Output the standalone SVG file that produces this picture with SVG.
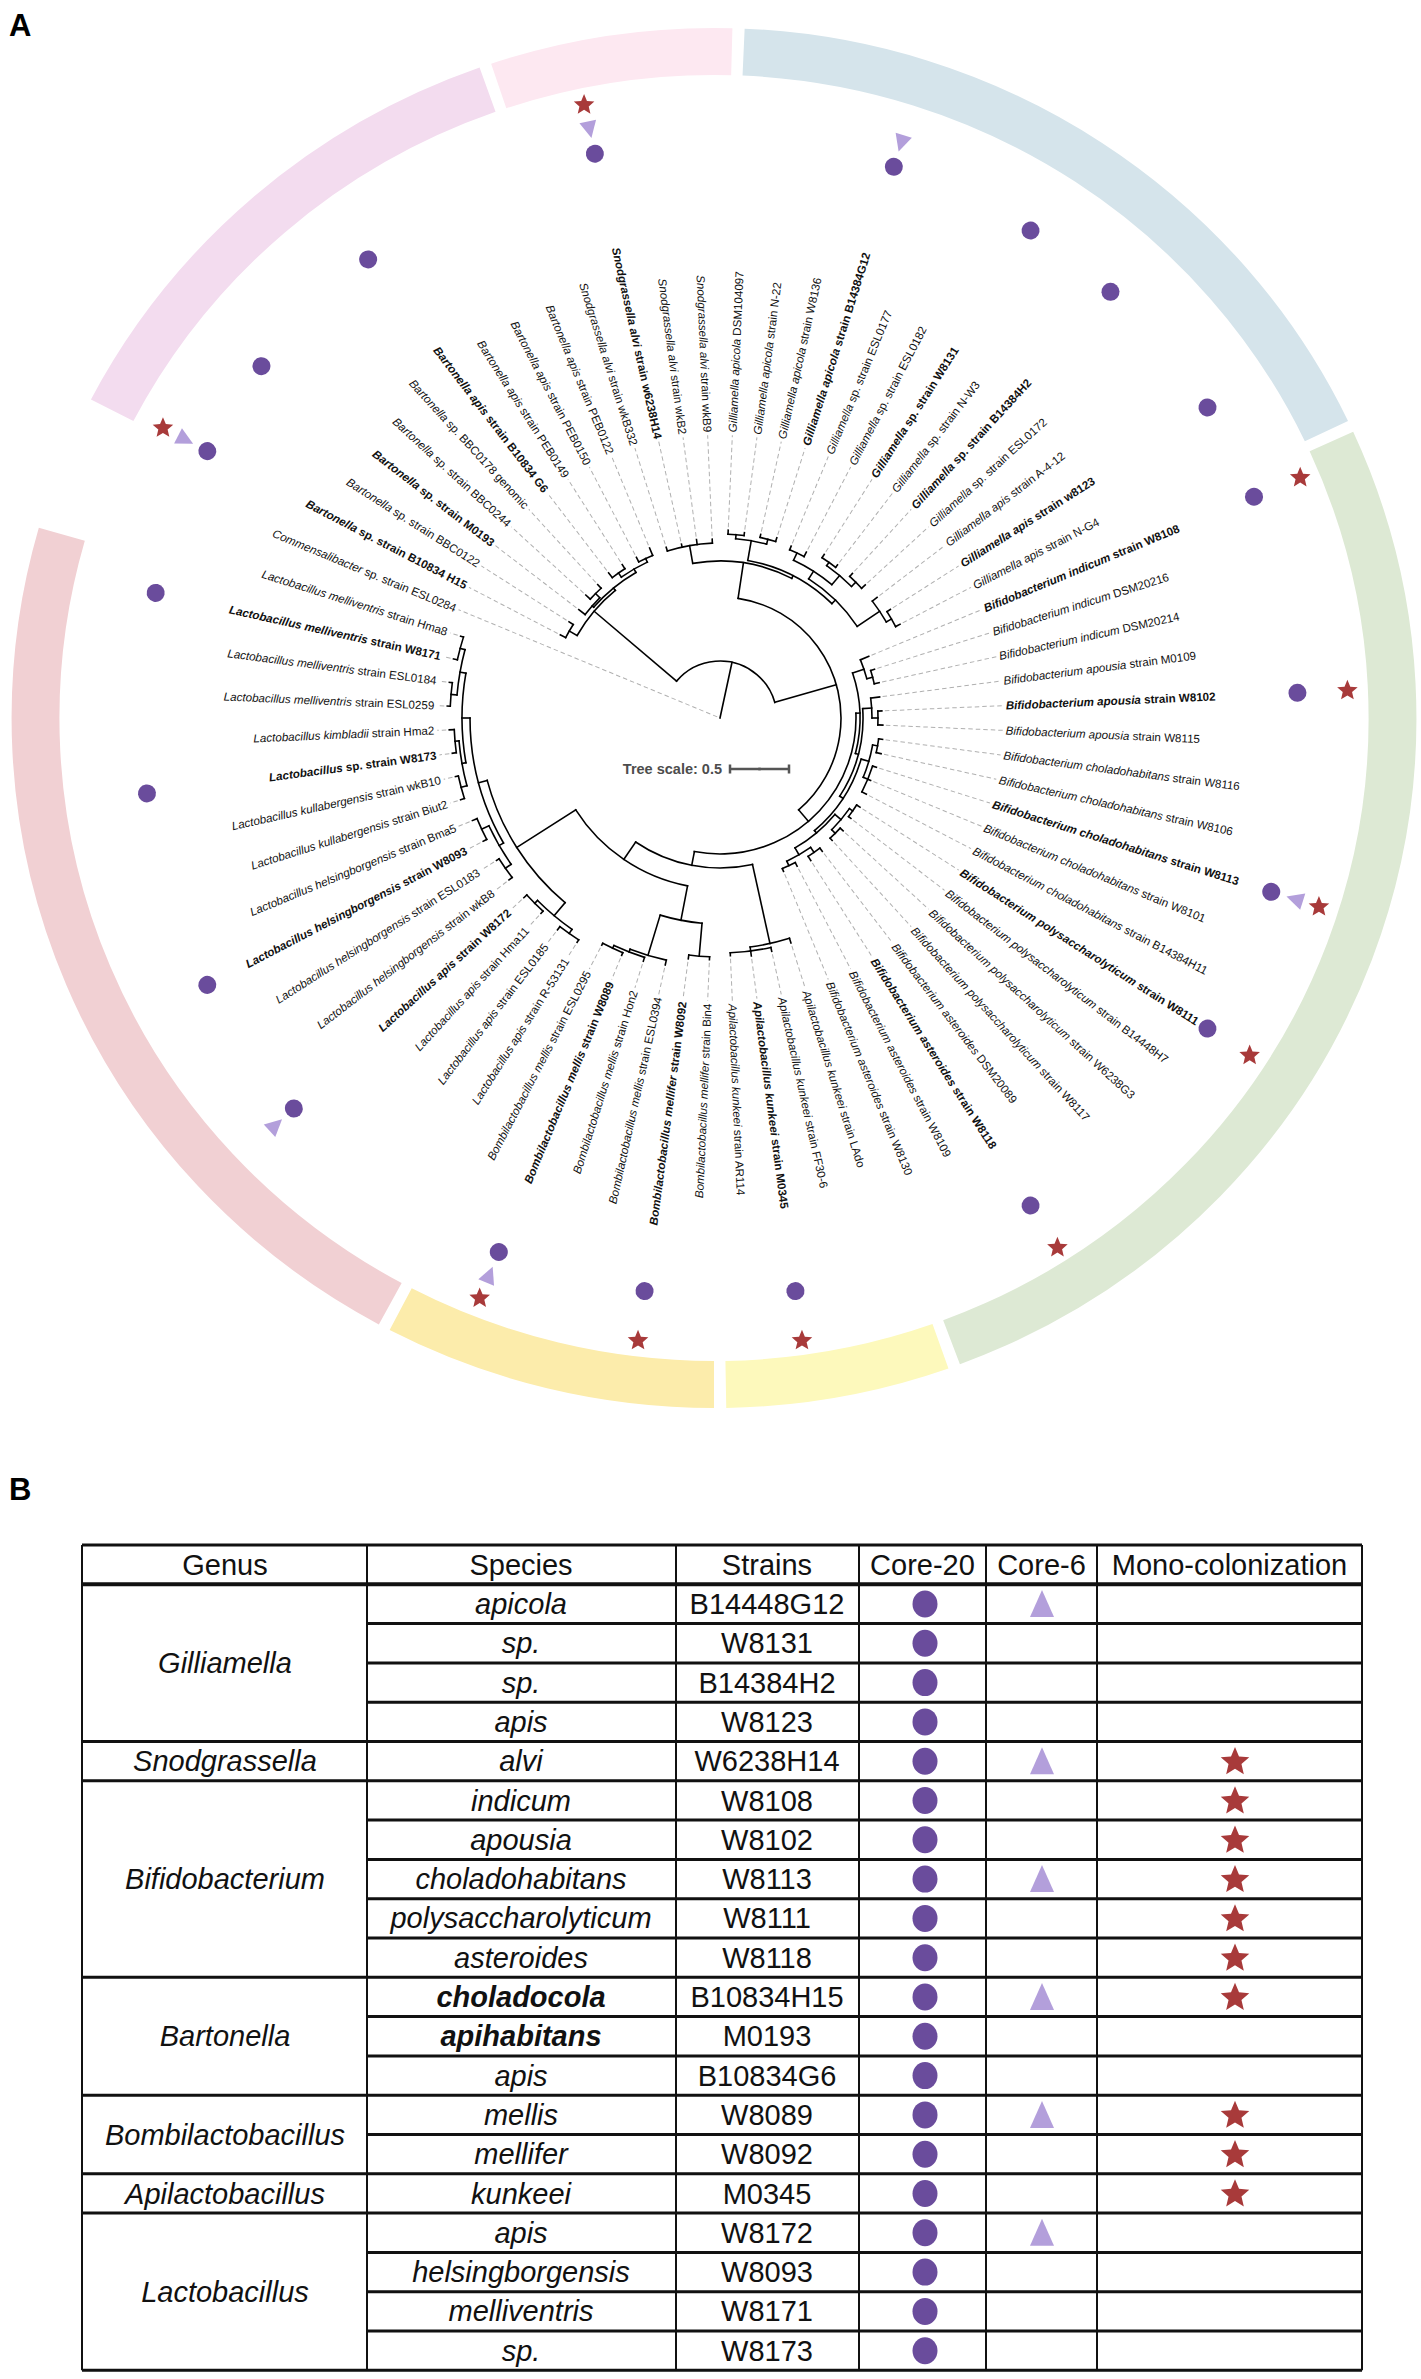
<svg xmlns="http://www.w3.org/2000/svg" xmlns:xlink="http://www.w3.org/1999/xlink" width="1421" height="2379" viewBox="0 0 1421 2379">
<style>
.br{fill:none;stroke:#000;stroke-width:1.6;stroke-linecap:square}
.ds{fill:none;stroke:#b0b0b0;stroke-width:1;stroke-dasharray:4.5 3}
.lb{font-family:"Liberation Sans",Arial,sans-serif;font-size:11.6px;fill:#111}
.b{font-weight:bold}
.i{font-style:italic}
.L{text-anchor:end}
.c{fill:#6a4c9c}
.t{fill:#b39fdb}
.s{fill:#a83a3a}
.ring{fill:none;stroke-width:47}
.tb{font-family:"Liberation Sans",Arial,sans-serif;font-size:29px;fill:#111;text-anchor:middle}
.hl{stroke:#111;stroke-width:3}
.vl{stroke:#111;stroke-width:2}
.pl{font-family:"Liberation Sans",Arial,sans-serif;font-size:31px;font-weight:bold;fill:#000}
</style>
<defs>
<circle id="dot" r="9"/>
<polygon id="tri" points="-9,0 8,-8.5 8,8.5"/>
<polygon id="star" points="0,-15 4,-5.5 14.27,-4.64 6.47,2.1 8.82,12.14 0,6.8 -8.82,12.14 -6.47,2.1 -14.27,-4.64 -4,-5.5"/>
<ellipse id="tdot" rx="12.5" ry="13.5"/>
<polygon id="ttri" points="0,-14 12,13 -12,13"/>
</defs>
<rect width="1421" height="2379" fill="#fff"/>
<text class="pl" x="9" y="36">A</text>
<text class="pl" x="9" y="1500">B</text>

<g id="ring" transform="translate(714 718) scale(1.018 1)">
<circle class="ring" r="666.5" stroke="#f3dcef" stroke-dasharray="500.2 9999" transform="rotate(207.5)"/>
<circle class="ring" r="666.5" stroke="#fde8f1" stroke-dasharray="232.7 9999" transform="rotate(251.5)"/>
<circle class="ring" r="666.5" stroke="#d5e4eb" stroke-dasharray="721.2 9999" transform="rotate(-87.5)"/>
<circle class="ring" r="666.5" stroke="#dde9d4" stroke-dasharray="1093.5 9999" transform="rotate(-24.5)"/>
<circle class="ring" r="666.5" stroke="#fdf9bc" stroke-dasharray="215.2 9999" transform="rotate(70.5)"/>
<circle class="ring" r="666.5" stroke="#fcecab" stroke-dasharray="319.9 9999" transform="rotate(90)"/>
<circle class="ring" r="666.5" stroke="#f1d0d3" stroke-dasharray="901.5 9999" transform="rotate(118.5)"/>
</g>

<g id="connectors" transform="translate(720 718)">
<g class="br">
<path transform="rotate(-77.84)" d="M0 0H57"/>
<path transform="rotate(220.31)" d="M57 0H165"/>
<path transform="rotate(-16)" d="M57 0H121"/>
<path transform="rotate(210)" d="M165 0H174"/>
<path transform="rotate(230.63)" d="M165 0H168"/>
<path transform="rotate(221.25)" d="M168 0H170"/>
<path transform="rotate(240)" d="M168 0H172"/>
<path transform="rotate(225)" d="M170 0H176"/>
<path transform="rotate(235)" d="M172 0H177"/>
<path transform="rotate(245)" d="M172 0H176"/>
<path transform="rotate(-81.41)" d="M121 0H157"/>
<path transform="rotate(260)" d="M157 0H175"/>
<path transform="rotate(-62.81)" d="M157 0H160"/>
<path transform="rotate(-80)" d="M160 0H180"/>
<path transform="rotate(-85)" d="M180 0H184"/>
<path transform="rotate(-75)" d="M180 0H185"/>
<path transform="rotate(-45.62)" d="M160 0H165"/>
<path transform="rotate(-57.5)" d="M165 0H174"/>
<path transform="rotate(-65)" d="M174 0H182"/>
<path transform="rotate(-50)" d="M174 0H186"/>
<path transform="rotate(-55)" d="M186 0H190"/>
<path transform="rotate(-45)" d="M186 0H192"/>
<path transform="rotate(-33.75)" d="M165 0H192"/>
<path transform="rotate(-30)" d="M192 0H198"/>
<path transform="rotate(49.42)" d="M121 0H136"/>
<path transform="rotate(-2.03)" d="M136 0H140"/>
<path transform="rotate(-18.75)" d="M140 0H152"/>
<path transform="rotate(-15)" d="M152 0H158"/>
<path transform="rotate(14.69)" d="M140 0H143"/>
<path transform="rotate(-3.75)" d="M143 0H152"/>
<path transform="rotate(0)" d="M152 0H158"/>
<path transform="rotate(33.13)" d="M143 0H147"/>
<path transform="rotate(16.25)" d="M147 0H155"/>
<path transform="rotate(10)" d="M155 0H160"/>
<path transform="rotate(22.5)" d="M155 0H160"/>
<path transform="rotate(50)" d="M147 0H150"/>
<path transform="rotate(40)" d="M150 0H158"/>
<path transform="rotate(35)" d="M158 0H162"/>
<path transform="rotate(45)" d="M158 0H163"/>
<path transform="rotate(60)" d="M150 0H158"/>
<path transform="rotate(55)" d="M158 0H164"/>
<path transform="rotate(65)" d="M158 0H163"/>
<path transform="rotate(100.86)" d="M136 0H150"/>
<path transform="rotate(77.5)" d="M150 0H231"/>
<path transform="rotate(82.5)" d="M231 0H235"/>
<path transform="rotate(124.22)" d="M150 0H171"/>
<path transform="rotate(100.94)" d="M171 0H206"/>
<path transform="rotate(95)" d="M206 0H239"/>
<path transform="rotate(106.88)" d="M206 0H248"/>
<path transform="rotate(111.25)" d="M248 0H251"/>
<path transform="rotate(115)" d="M251 0H254"/>
<path transform="rotate(147.5)" d="M171 0H241"/>
<path transform="rotate(130)" d="M241 0H258"/>
<path transform="rotate(125)" d="M258 0H263"/>
<path transform="rotate(135)" d="M258 0H262"/>
<path transform="rotate(165)" d="M241 0H250"/>
<path transform="rotate(150)" d="M250 0H255"/>
<path transform="rotate(145)" d="M255 0H262"/>
<path transform="rotate(155)" d="M255 0H263"/>
<path transform="rotate(180)" d="M250 0H258"/>
<path transform="rotate(170)" d="M258 0H262"/>
<path transform="rotate(165)" d="M262 0H268"/>
<path transform="rotate(175)" d="M262 0H266"/>
<path transform="rotate(190)" d="M258 0H264"/>
<path transform="rotate(185)" d="M264 0H270"/>
<path transform="rotate(195)" d="M264 0H269"/>
<circle r="57" stroke-dasharray="123.05 9999" transform="rotate(220.31)"/>
<circle r="165" stroke-dasharray="59.4 9999" transform="rotate(210)"/>
<circle r="174" stroke-dasharray="15.18 9999" transform="rotate(207.5)"/>
<circle r="168" stroke-dasharray="54.98 9999" transform="rotate(221.25)"/>
<circle r="170" stroke-dasharray="22.25 9999" transform="rotate(217.5)"/>
<circle r="176" stroke-dasharray="15.36 9999" transform="rotate(222.5)"/>
<circle r="172" stroke-dasharray="30.02 9999" transform="rotate(235)"/>
<circle r="177" stroke-dasharray="15.45 9999" transform="rotate(232.5)"/>
<circle r="176" stroke-dasharray="15.36 9999" transform="rotate(242.5)"/>
<circle r="121" stroke-dasharray="276.29 9999" transform="rotate(-81.41)"/>
<circle r="157" stroke-dasharray="101.91 9999" transform="rotate(260)"/>
<circle r="175" stroke-dasharray="45.81 9999" transform="rotate(252.5)"/>
<circle r="160" stroke-dasharray="95.99 9999" transform="rotate(-80)"/>
<circle r="180" stroke-dasharray="31.42 9999" transform="rotate(-85)"/>
<circle r="184" stroke-dasharray="16.06 9999" transform="rotate(-87.5)"/>
<circle r="185" stroke-dasharray="16.14 9999" transform="rotate(-77.5)"/>
<circle r="165" stroke-dasharray="68.4 9999" transform="rotate(-57.5)"/>
<circle r="174" stroke-dasharray="45.55 9999" transform="rotate(-65)"/>
<circle r="182" stroke-dasharray="15.88 9999" transform="rotate(-67.5)"/>
<circle r="186" stroke-dasharray="32.46 9999" transform="rotate(-55)"/>
<circle r="190" stroke-dasharray="16.58 9999" transform="rotate(-57.5)"/>
<circle r="192" stroke-dasharray="16.76 9999" transform="rotate(-47.5)"/>
<circle r="192" stroke-dasharray="25.13 9999" transform="rotate(-37.5)"/>
<circle r="198" stroke-dasharray="17.28 9999" transform="rotate(-32.5)"/>
<circle r="136" stroke-dasharray="244.22 9999" transform="rotate(-2.03)"/>
<circle r="140" stroke-dasharray="81.7 9999" transform="rotate(-18.75)"/>
<circle r="152" stroke-dasharray="19.9 9999" transform="rotate(-22.5)"/>
<circle r="158" stroke-dasharray="13.79 9999" transform="rotate(-17.5)"/>
<circle r="143" stroke-dasharray="92.03 9999" transform="rotate(-3.75)"/>
<circle r="152" stroke-dasharray="19.9 9999" transform="rotate(-7.5)"/>
<circle r="158" stroke-dasharray="13.79 9999" transform="rotate(-2.5)"/>
<circle r="147" stroke-dasharray="86.59 9999" transform="rotate(16.25)"/>
<circle r="155" stroke-dasharray="33.82 9999" transform="rotate(10)"/>
<circle r="160" stroke-dasharray="13.96 9999" transform="rotate(7.5)"/>
<circle r="160" stroke-dasharray="27.93 9999" transform="rotate(17.5)"/>
<circle r="150" stroke-dasharray="52.36 9999" transform="rotate(40)"/>
<circle r="158" stroke-dasharray="27.58 9999" transform="rotate(35)"/>
<circle r="162" stroke-dasharray="14.14 9999" transform="rotate(32.5)"/>
<circle r="163" stroke-dasharray="14.22 9999" transform="rotate(42.5)"/>
<circle r="158" stroke-dasharray="27.58 9999" transform="rotate(55)"/>
<circle r="164" stroke-dasharray="14.31 9999" transform="rotate(52.5)"/>
<circle r="163" stroke-dasharray="14.22 9999" transform="rotate(62.5)"/>
<circle r="150" stroke-dasharray="122.31 9999" transform="rotate(77.5)"/>
<circle r="231" stroke-dasharray="40.32 9999" transform="rotate(72.5)"/>
<circle r="235" stroke-dasharray="41.02 9999" transform="rotate(77.5)"/>
<circle r="171" stroke-dasharray="138.97 9999" transform="rotate(100.94)"/>
<circle r="206" stroke-dasharray="42.7 9999" transform="rotate(95)"/>
<circle r="239" stroke-dasharray="20.86 9999" transform="rotate(92.5)"/>
<circle r="248" stroke-dasharray="37.87 9999" transform="rotate(102.5)"/>
<circle r="251" stroke-dasharray="32.86 9999" transform="rotate(107.5)"/>
<circle r="254" stroke-dasharray="22.17 9999" transform="rotate(112.5)"/>
<circle r="241" stroke-dasharray="147.22 9999" transform="rotate(130)"/>
<circle r="258" stroke-dasharray="45.03 9999" transform="rotate(125)"/>
<circle r="263" stroke-dasharray="22.95 9999" transform="rotate(122.5)"/>
<circle r="262" stroke-dasharray="22.86 9999" transform="rotate(132.5)"/>
<circle r="250" stroke-dasharray="130.9 9999" transform="rotate(150)"/>
<circle r="255" stroke-dasharray="44.51 9999" transform="rotate(145)"/>
<circle r="262" stroke-dasharray="22.86 9999" transform="rotate(142.5)"/>
<circle r="263" stroke-dasharray="22.95 9999" transform="rotate(152.5)"/>
<circle r="258" stroke-dasharray="90.06 9999" transform="rotate(170)"/>
<circle r="262" stroke-dasharray="45.73 9999" transform="rotate(165)"/>
<circle r="268" stroke-dasharray="23.39 9999" transform="rotate(162.5)"/>
<circle r="266" stroke-dasharray="23.21 9999" transform="rotate(172.5)"/>
<circle r="264" stroke-dasharray="46.08 9999" transform="rotate(185)"/>
<circle r="270" stroke-dasharray="23.56 9999" transform="rotate(182.5)"/>
<circle r="269" stroke-dasharray="23.47 9999" transform="rotate(192.5)"/>
</g>
<g transform="rotate(267.5)"><path class="br" d="M175 0H179"/><path class="ds" d="M182 0H283"/></g>
<g transform="rotate(-87.5)"><path class="br" d="M184 0H188"/><path class="ds" d="M191 0H283"/></g>
<g transform="rotate(-82.5)"><path class="br" d="M184 0H187"/><path class="ds" d="M190 0H283"/></g>
<g transform="rotate(-77.5)"><path class="br" d="M185 0H188"/><path class="ds" d="M191 0H283"/></g>
<g transform="rotate(-72.5)"><path class="br" d="M185 0H189"/><path class="ds" d="M192 0H283"/></g>
<g transform="rotate(-67.5)"><path class="br" d="M182 0H186"/><path class="ds" d="M189 0H283"/></g>
<g transform="rotate(-62.5)"><path class="br" d="M182 0H187"/><path class="ds" d="M190 0H283"/></g>
<g transform="rotate(-57.5)"><path class="br" d="M190 0H194"/><path class="ds" d="M197 0H283"/></g>
<g transform="rotate(-52.5)"><path class="br" d="M190 0H193"/><path class="ds" d="M196 0H283"/></g>
<g transform="rotate(-47.5)"><path class="br" d="M192 0H196"/><path class="ds" d="M199 0H283"/></g>
<g transform="rotate(-42.5)"><path class="br" d="M192 0H197"/><path class="ds" d="M200 0H283"/></g>
<g transform="rotate(-37.5)"><path class="br" d="M192 0H198"/><path class="ds" d="M201 0H283"/></g>
<g transform="rotate(-32.5)"><path class="br" d="M198 0H202"/><path class="ds" d="M205 0H283"/></g>
<g transform="rotate(-27.5)"><path class="br" d="M198 0H203"/><path class="ds" d="M206 0H283"/></g>
<g transform="rotate(-22.5)"><path class="br" d="M152 0H161"/><path class="ds" d="M164 0H283"/></g>
<g transform="rotate(-17.5)"><path class="br" d="M158 0H162"/><path class="ds" d="M165 0H283"/></g>
<g transform="rotate(-12.5)"><path class="br" d="M158 0H163"/><path class="ds" d="M166 0H283"/></g>
<g transform="rotate(-7.5)"><path class="br" d="M152 0H161"/><path class="ds" d="M164 0H283"/></g>
<g transform="rotate(-2.5)"><path class="br" d="M158 0H162"/><path class="ds" d="M165 0H283"/></g>
<g transform="rotate(2.5)"><path class="br" d="M158 0H163"/><path class="ds" d="M166 0H283"/></g>
<g transform="rotate(7.5)"><path class="br" d="M160 0H164"/><path class="ds" d="M167 0H283"/></g>
<g transform="rotate(12.5)"><path class="br" d="M160 0H165"/><path class="ds" d="M168 0H283"/></g>
<g transform="rotate(17.5)"><path class="br" d="M160 0H164"/><path class="ds" d="M167 0H283"/></g>
<g transform="rotate(22.5)"><path class="br" d="M160 0H163"/><path class="ds" d="M166 0H283"/></g>
<g transform="rotate(27.5)"><path class="br" d="M160 0H165"/><path class="ds" d="M168 0H283"/></g>
<g transform="rotate(32.5)"><path class="br" d="M162 0H166"/><path class="ds" d="M169 0H283"/></g>
<g transform="rotate(37.5)"><path class="br" d="M162 0H165"/><path class="ds" d="M168 0H283"/></g>
<g transform="rotate(42.5)"><path class="br" d="M163 0H167"/><path class="ds" d="M170 0H283"/></g>
<g transform="rotate(47.5)"><path class="br" d="M163 0H166"/><path class="ds" d="M169 0H283"/></g>
<g transform="rotate(52.5)"><path class="br" d="M164 0H168"/><path class="ds" d="M171 0H283"/></g>
<g transform="rotate(57.5)"><path class="br" d="M164 0H169"/><path class="ds" d="M172 0H283"/></g>
<g transform="rotate(62.5)"><path class="br" d="M163 0H167"/><path class="ds" d="M170 0H283"/></g>
<g transform="rotate(67.5)"><path class="br" d="M163 0H166"/><path class="ds" d="M169 0H283"/></g>
<g transform="rotate(72.5)"><path class="br" d="M231 0H236"/><path class="ds" d="M239 0H283"/></g>
<g transform="rotate(77.5)"><path class="br" d="M235 0H239"/><path class="ds" d="M242 0H283"/></g>
<g transform="rotate(82.5)"><path class="br" d="M235 0H240"/><path class="ds" d="M243 0H283"/></g>
<g transform="rotate(87.5)"><path class="br" d="M235 0H238"/><path class="ds" d="M241 0H283"/></g>
<g transform="rotate(92.5)"><path class="br" d="M239 0H242"/><path class="ds" d="M245 0H283"/></g>
<g transform="rotate(97.5)"><path class="br" d="M239 0H243"/><path class="ds" d="M246 0H283"/></g>
<g transform="rotate(102.5)"><path class="br" d="M248 0H253"/><path class="ds" d="M256 0H283"/></g>
<g transform="rotate(107.5)"><path class="br" d="M251 0H255"/><path class="ds" d="M258 0H283"/></g>
<g transform="rotate(112.5)"><path class="br" d="M254 0H257"/><path class="ds" d="M260 0H283"/></g>
<g transform="rotate(117.5)"><path class="br" d="M254 0H256"/><path class="ds" d="M259 0H283"/></g>
<g transform="rotate(122.5)"><path class="br" d="M263 0H266"/><path class="ds" d="M269 0H283"/></g>
<g transform="rotate(127.5)"><path class="br" d="M263 0H267"/><path class="ds" d="M270 0H283"/></g>
<g transform="rotate(132.5)"><path class="br" d="M262 0H265"/><path class="ds" d="M268 0H283"/></g>
<g transform="rotate(137.5)"><path class="br" d="M262 0H266"/><path class="ds" d="M269 0H283"/></g>
<g transform="rotate(142.5)"><path class="br" d="M262 0H266"/><path class="ds" d="M269 0H283"/></g>
<g transform="rotate(147.5)"><path class="br" d="M262 0H265"/><path class="ds" d="M268 0H283"/></g>
<g transform="rotate(152.5)"><path class="br" d="M263 0H267"/><path class="ds" d="M270 0H283"/></g>
<g transform="rotate(157.5)"><path class="br" d="M263 0H268"/><path class="ds" d="M271 0H283"/></g>
<g transform="rotate(162.5)"><path class="br" d="M268 0H272"/><path class="ds" d="M275 0H283"/></g>
<g transform="rotate(167.5)"><path class="br" d="M268 0H271"/><path class="ds" d="M274 0H283"/></g>
<g transform="rotate(172.5)"><path class="br" d="M266 0H270"/><path class="ds" d="M273 0H283"/></g>
<g transform="rotate(177.5)"><path class="br" d="M266 0H271"/><path class="ds" d="M274 0H283"/></g>
<g transform="rotate(182.5)"><path class="br" d="M270 0H273"/><path class="ds" d="M276 0H283"/></g>
<g transform="rotate(187.5)"><path class="br" d="M270 0H273"/><path class="ds" d="M276 0H283"/></g>
<g transform="rotate(192.5)"><path class="br" d="M269 0H273"/><path class="ds" d="M276 0H283"/></g>
<g transform="rotate(197.5)"><path class="br" d="M269 0H272"/><path class="ds" d="M275 0H283"/></g>
<g transform="rotate(202.5)"><path class="ds" d="M3 0H283"/></g>
<g transform="rotate(207.5)"><path class="br" d="M174 0H180"/><path class="ds" d="M183 0H283"/></g>
<g transform="rotate(212.5)"><path class="br" d="M174 0H179"/><path class="ds" d="M182 0H283"/></g>
<g transform="rotate(217.5)"><path class="br" d="M170 0H178"/><path class="ds" d="M181 0H283"/></g>
<g transform="rotate(222.5)"><path class="br" d="M176 0H182"/><path class="ds" d="M185 0H283"/></g>
<g transform="rotate(227.5)"><path class="br" d="M176 0H181"/><path class="ds" d="M184 0H283"/></g>
<g transform="rotate(232.5)"><path class="br" d="M177 0H183"/><path class="ds" d="M186 0H283"/></g>
<g transform="rotate(237.5)"><path class="br" d="M177 0H182"/><path class="ds" d="M185 0H283"/></g>
<g transform="rotate(242.5)"><path class="br" d="M176 0H181"/><path class="ds" d="M184 0H283"/></g>
<g transform="rotate(247.5)"><path class="br" d="M176 0H184"/><path class="ds" d="M187 0H283"/></g>
<g transform="rotate(252.5)"><path class="br" d="M175 0H179"/><path class="ds" d="M182 0H283"/></g>
<g transform="rotate(257.5)"><path class="br" d="M175 0H178"/><path class="ds" d="M181 0H283"/></g>
<g transform="rotate(262.5)"><path class="br" d="M175 0H180"/><path class="ds" d="M183 0H283"/></g>
</g>

<g id="scale">
<text x="722" y="774" text-anchor="end" font-family="Liberation Sans, Arial, sans-serif" font-size="14.5" font-weight="bold" fill="#4d4d4d">Tree scale: 0.5</text>
<path d="M730 769H789M730 764.5V773.5M789 764.5V773.5M759.5 767.5V770.5" stroke="#555" stroke-width="2.5" fill="none"/>
</g>

<g id="leaves" class="lb" transform="translate(720 718)">
<g id="leaf01" transform="rotate(267.5)"><text class="L" transform="rotate(180)" x="-286" dy=".35em"><tspan class="i">Snodgrassella alvi</tspan> strain wkB9</text></g>
<g id="leaf02" transform="rotate(-87.5)"><text x="286" dy=".35em"><tspan class="i">Gilliamella apicola</tspan> DSM104097</text></g>
<g id="leaf03" transform="rotate(-82.5)"><text x="286" dy=".35em"><tspan class="i">Gilliamella apicola</tspan> strain N-22</text></g>
<g id="leaf04" transform="rotate(-77.5)"><text x="286" dy=".35em"><tspan class="i">Gilliamella apicola</tspan> strain W8136</text></g>
<g id="leaf05" transform="rotate(-72.5)"><text class="b" x="286" dy=".35em"><tspan class="i">Gilliamella apicola</tspan> strain B14384G12</text><use href="#dot" class="c" x="578"/><use href="#tri" class="t" x="603"/></g>
<g id="leaf06" transform="rotate(-67.5)"><text x="286" dy=".35em"><tspan class="i">Gilliamella</tspan> sp. strain ESL0177</text></g>
<g id="leaf07" transform="rotate(-62.5)"><text x="286" dy=".35em"><tspan class="i">Gilliamella</tspan> sp. strain ESL0182</text></g>
<g id="leaf08" transform="rotate(-57.5)"><text class="b" x="286" dy=".35em"><tspan class="i">Gilliamella</tspan> sp. strain W8131</text><use href="#dot" class="c" x="578"/></g>
<g id="leaf09" transform="rotate(-52.5)"><text x="286" dy=".35em"><tspan class="i">Gilliamella</tspan> sp. strain N-W3</text></g>
<g id="leaf10" transform="rotate(-47.5)"><text class="b" x="286" dy=".35em"><tspan class="i">Gilliamella</tspan> sp. strain B14384H2</text><use href="#dot" class="c" x="578"/></g>
<g id="leaf11" transform="rotate(-42.5)"><text x="286" dy=".35em"><tspan class="i">Gilliamella</tspan> sp. strain ESL0172</text></g>
<g id="leaf12" transform="rotate(-37.5)"><text x="286" dy=".35em"><tspan class="i">Gilliamella apis</tspan> strain A-4-12</text></g>
<g id="leaf13" transform="rotate(-32.5)"><text class="b" x="286" dy=".35em"><tspan class="i">Gilliamella apis</tspan> strain w8123</text><use href="#dot" class="c" x="578"/></g>
<g id="leaf14" transform="rotate(-27.5)"><text x="286" dy=".35em"><tspan class="i">Gilliamella apis</tspan> strain N-G4</text></g>
<g id="leaf15" transform="rotate(-22.5)"><text class="b" x="286" dy=".35em"><tspan class="i">Bifidobacterium indicum</tspan> strain W8108</text><use href="#dot" class="c" x="578"/><use href="#star" class="s" transform="translate(628 0) rotate(22.5) scale(.72)"/></g>
<g id="leaf16" transform="rotate(-17.5)"><text x="286" dy=".35em"><tspan class="i">Bifidobacterium indicum</tspan> DSM20216</text></g>
<g id="leaf17" transform="rotate(-12.5)"><text x="286" dy=".35em"><tspan class="i">Bifidobacterium indicum</tspan> DSM20214</text></g>
<g id="leaf18" transform="rotate(-7.5)"><text x="286" dy=".35em"><tspan class="i">Bifidobacterium apousia</tspan> strain M0109</text></g>
<g id="leaf19" transform="rotate(-2.5)"><text class="b" x="286" dy=".35em"><tspan class="i">Bifidobacterium apousia</tspan> strain W8102</text><use href="#dot" class="c" x="578"/><use href="#star" class="s" transform="translate(628 0) rotate(2.5) scale(.72)"/></g>
<g id="leaf20" transform="rotate(2.5)"><text x="286" dy=".35em"><tspan class="i">Bifidobacterium apousia</tspan> strain W8115</text></g>
<g id="leaf21" transform="rotate(7.5)"><text x="286" dy=".35em"><tspan class="i">Bifidobacterium choladohabitans</tspan> strain W8116</text></g>
<g id="leaf22" transform="rotate(12.5)"><text x="286" dy=".35em"><tspan class="i">Bifidobacterium choladohabitans</tspan> strain W8106</text></g>
<g id="leaf23" transform="rotate(17.5)"><text class="b" x="286" dy=".35em"><tspan class="i">Bifidobacterium choladohabitans</tspan> strain W8113</text><use href="#dot" class="c" x="578"/><use href="#tri" class="t" x="603"/><use href="#star" class="s" transform="translate(628 0) rotate(-17.5) scale(.72)"/></g>
<g id="leaf24" transform="rotate(22.5)"><text x="286" dy=".35em"><tspan class="i">Bifidobacterium choladohabitans</tspan> strain W8101</text></g>
<g id="leaf25" transform="rotate(27.5)"><text x="286" dy=".35em"><tspan class="i">Bifidobacterium choladohabitans</tspan> strain B14384H11</text></g>
<g id="leaf26" transform="rotate(32.5)"><text class="b" x="286" dy=".35em"><tspan class="i">Bifidobacterium polysaccharolyticum</tspan> strain W8111</text><use href="#dot" class="c" x="578"/><use href="#star" class="s" transform="translate(628 0) rotate(-32.5) scale(.72)"/></g>
<g id="leaf27" transform="rotate(37.5)"><text x="286" dy=".35em"><tspan class="i">Bifidobacterium polysaccharolyticum</tspan> strain B14448H7</text></g>
<g id="leaf28" transform="rotate(42.5)"><text x="286" dy=".35em"><tspan class="i">Bifidobacterium polysaccharolyticum</tspan> strain W6238G3</text></g>
<g id="leaf29" transform="rotate(47.5)"><text x="286" dy=".35em"><tspan class="i">Bifidobacterium polysaccharolyticum</tspan> strain W8117</text></g>
<g id="leaf30" transform="rotate(52.5)"><text x="286" dy=".35em"><tspan class="i">Bifidobacterium asteroides</tspan> DSM20089</text></g>
<g id="leaf31" transform="rotate(57.5)"><text class="b" x="286" dy=".35em"><tspan class="i">Bifidobacterium asteroides</tspan> strain W8118</text><use href="#dot" class="c" x="578"/><use href="#star" class="s" transform="translate(628 0) rotate(-57.5) scale(.72)"/></g>
<g id="leaf32" transform="rotate(62.5)"><text x="286" dy=".35em"><tspan class="i">Bifidobacterium asteroides</tspan> strain W8109</text></g>
<g id="leaf33" transform="rotate(67.5)"><text x="286" dy=".35em"><tspan class="i">Bifidobacterium asteroides</tspan> strain W8130</text></g>
<g id="leaf34" transform="rotate(72.5)"><text x="286" dy=".35em"><tspan class="i">Apilactobacillus kunkeei</tspan> strain LAdo</text></g>
<g id="leaf35" transform="rotate(77.5)"><text x="286" dy=".35em"><tspan class="i">Apilactobacillus kunkeei</tspan> strain FF30-6</text></g>
<g id="leaf36" transform="rotate(82.5)"><text class="b" x="286" dy=".35em"><tspan class="i">Apilactobacillus kunkeei</tspan> strain M0345</text><use href="#dot" class="c" x="578"/><use href="#star" class="s" transform="translate(628 0) rotate(-82.5) scale(.72)"/></g>
<g id="leaf37" transform="rotate(87.5)"><text x="286" dy=".35em"><tspan class="i">Apilactobacillus kunkeei</tspan> strain AR114</text></g>
<g id="leaf38" transform="rotate(92.5)"><text class="L" transform="rotate(180)" x="-286" dy=".35em"><tspan class="i">Bombilactobacillus mellifer</tspan> strain Bin4</text></g>
<g id="leaf39" transform="rotate(97.5)"><text class="L b" transform="rotate(180)" x="-286" dy=".35em"><tspan class="i">Bombilactobacillus mellifer</tspan> strain W8092</text><use href="#dot" class="c" x="578"/><use href="#star" class="s" transform="translate(628 0) rotate(-97.5) scale(.72)"/></g>
<g id="leaf40" transform="rotate(102.5)"><text class="L" transform="rotate(180)" x="-286" dy=".35em"><tspan class="i">Bombilactobacillus mellis</tspan>  strain ESL0394</text></g>
<g id="leaf41" transform="rotate(107.5)"><text class="L" transform="rotate(180)" x="-286" dy=".35em"><tspan class="i">Bombilactobacillus mellis</tspan> strain Hon2</text></g>
<g id="leaf42" transform="rotate(112.5)"><text class="L b" transform="rotate(180)" x="-286" dy=".35em"><tspan class="i">Bombilactobacillus mellis</tspan> strain W8089</text><use href="#dot" class="c" x="578"/><use href="#tri" class="t" x="603"/><use href="#star" class="s" transform="translate(628 0) rotate(-112.5) scale(.72)"/></g>
<g id="leaf43" transform="rotate(117.5)"><text class="L" transform="rotate(180)" x="-286" dy=".35em"><tspan class="i">Bombilactobacillus mellis</tspan> strain ESL0295</text></g>
<g id="leaf44" transform="rotate(122.5)"><text class="L" transform="rotate(180)" x="-286" dy=".35em"><tspan class="i">Lactobacillus apis</tspan> strain R-53131</text></g>
<g id="leaf45" transform="rotate(127.5)"><text class="L" transform="rotate(180)" x="-286" dy=".35em"><tspan class="i">Lactobacillus apis</tspan> strain ESL0185</text></g>
<g id="leaf46" transform="rotate(132.5)"><text class="L" transform="rotate(180)" x="-286" dy=".35em"><tspan class="i">Lactobacillus apis</tspan> strain Hma11</text></g>
<g id="leaf47" transform="rotate(137.5)"><text class="L b" transform="rotate(180)" x="-286" dy=".35em"><tspan class="i">Lactobacillus apis</tspan> strain W8172</text><use href="#dot" class="c" x="578"/><use href="#tri" class="t" x="603"/></g>
<g id="leaf48" transform="rotate(142.5)"><text class="L" transform="rotate(180)" x="-286" dy=".35em"><tspan class="i">Lactobacillus helsingborgensis</tspan> strain wkB8</text></g>
<g id="leaf49" transform="rotate(147.5)"><text class="L" transform="rotate(180)" x="-286" dy=".35em"><tspan class="i">Lactobacillus helsingborgensis</tspan> strain ESL0183</text></g>
<g id="leaf50" transform="rotate(152.5)"><text class="L b" transform="rotate(180)" x="-286" dy=".35em"><tspan class="i">Lactobacillus helsingborgensis</tspan> strain W8093</text><use href="#dot" class="c" x="578"/></g>
<g id="leaf51" transform="rotate(157.5)"><text class="L" transform="rotate(180)" x="-286" dy=".35em"><tspan class="i">Lactobacillus helsingborgensis</tspan> strain Bma5</text></g>
<g id="leaf52" transform="rotate(162.5)"><text class="L" transform="rotate(180)" x="-286" dy=".35em"><tspan class="i">Lactobacillus kullabergensis</tspan> strain Biut2</text></g>
<g id="leaf53" transform="rotate(167.5)"><text class="L" transform="rotate(180)" x="-286" dy=".35em"><tspan class="i">Lactobacillus kullabergensis</tspan> strain wkB10</text></g>
<g id="leaf54" transform="rotate(172.5)"><text class="L b" transform="rotate(180)" x="-286" dy=".35em"><tspan class="i">Lactobacillus</tspan> sp. strain W8173</text><use href="#dot" class="c" x="578"/></g>
<g id="leaf55" transform="rotate(177.5)"><text class="L" transform="rotate(180)" x="-286" dy=".35em"><tspan class="i">Lactobacillus kimbladii</tspan> strain Hma2</text></g>
<g id="leaf56" transform="rotate(182.5)"><text class="L" transform="rotate(180)" x="-286" dy=".35em"><tspan class="i">Lactobacillus melliventris</tspan> strain ESL0259</text></g>
<g id="leaf57" transform="rotate(187.5)"><text class="L" transform="rotate(180)" x="-286" dy=".35em"><tspan class="i">Lactobacillus melliventris</tspan> strain ESL0184</text></g>
<g id="leaf58" transform="rotate(192.5)"><text class="L b" transform="rotate(180)" x="-286" dy=".35em"><tspan class="i">Lactobacillus melliventris</tspan> strain W8171</text><use href="#dot" class="c" x="578"/></g>
<g id="leaf59" transform="rotate(197.5)"><text class="L" transform="rotate(180)" x="-286" dy=".35em"><tspan class="i">Lactobacillus melliventris</tspan> strain Hma8</text></g>
<g id="leaf60" transform="rotate(202.5)"><text class="L" transform="rotate(180)" x="-286" dy=".35em"><tspan class="i">Commensalibacter</tspan> sp. strain ESL0284</text></g>
<g id="leaf61" transform="rotate(207.5)"><text class="L b" transform="rotate(180)" x="-286" dy=".35em"><tspan class="i">Bartonella</tspan> sp. strain B10834 H15</text><use href="#dot" class="c" x="578"/><use href="#tri" class="t" x="603"/><use href="#star" class="s" transform="translate(628 0) rotate(-207.5) scale(.72)"/></g>
<g id="leaf62" transform="rotate(212.5)"><text class="L" transform="rotate(180)" x="-286" dy=".35em"><tspan class="i">Bartonella</tspan> sp. strain BBC0122</text></g>
<g id="leaf63" transform="rotate(217.5)"><text class="L b" transform="rotate(180)" x="-286" dy=".35em"><tspan class="i">Bartonella</tspan> sp. strain M0193</text><use href="#dot" class="c" x="578"/></g>
<g id="leaf64" transform="rotate(222.5)"><text class="L" transform="rotate(180)" x="-286" dy=".35em"><tspan class="i">Bartonella</tspan> sp. strain BBC0244</text></g>
<g id="leaf65" transform="rotate(227.5)"><text class="L" transform="rotate(180)" x="-286" dy=".35em"><tspan class="i">Bartonella</tspan> sp. BBC0178 genomic</text></g>
<g id="leaf66" transform="rotate(232.5)"><text class="L b" transform="rotate(180)" x="-286" dy=".35em"><tspan class="i">Bartonella apis</tspan> strain B10834 G6</text><use href="#dot" class="c" x="578"/></g>
<g id="leaf67" transform="rotate(237.5)"><text class="L" transform="rotate(180)" x="-286" dy=".35em"><tspan class="i">Bartonella apis</tspan> strain PEB0149</text></g>
<g id="leaf68" transform="rotate(242.5)"><text class="L" transform="rotate(180)" x="-286" dy=".35em"><tspan class="i">Bartonella apis</tspan> strain PEB0150</text></g>
<g id="leaf69" transform="rotate(247.5)"><text class="L" transform="rotate(180)" x="-286" dy=".35em"><tspan class="i">Bartonella apis</tspan> strain PEB0122</text></g>
<g id="leaf70" transform="rotate(252.5)"><text class="L" transform="rotate(180)" x="-286" dy=".35em"><tspan class="i">Snodgrassella alvi</tspan> strain wkB332</text></g>
<g id="leaf71" transform="rotate(257.5)"><text class="L b" transform="rotate(180)" x="-286" dy=".35em"><tspan class="i">Snodgrassella alvi</tspan> strain w6238H14</text><use href="#dot" class="c" x="578"/><use href="#tri" class="t" x="603"/><use href="#star" class="s" transform="translate(628 0) rotate(-257.5) scale(.72)"/></g>
<g id="leaf72" transform="rotate(262.5)"><text class="L" transform="rotate(180)" x="-286" dy=".35em"><tspan class="i">Snodgrassella alvi</tspan> strain wkB2</text></g>
</g>

<g id="table">
<g id="grid" fill="none">
<path class="hl" d="M82 1545H1362M82 1741.5H1362M82 1780.8H1362M82 1977.3H1362M82 2095.2H1362M82 2173.8H1362M82 2213.1H1362M82 2370.3H1362"/>
<path class="hl" style="stroke-width:4" d="M82 1584.3H1362"/>
<path class="hl" d="M367 1623.6H1362M367 1662.9H1362M367 1702.2H1362M367 1820.1H1362M367 1859.4H1362M367 1898.7H1362M367 1938H1362M367 2016.6H1362M367 2055.9H1362M367 2134.5H1362M367 2252.4H1362M367 2291.7H1362M367 2331H1362"/>
<path class="vl" d="M82 1545V2370.3M367 1545V2370.3M676 1545V2370.3M859 1545V2370.3M986 1545V2370.3M1097 1545V2370.3M1362 1545V2370.3"/>
</g>
<g id="header" class="tb">
<text x="225" y="1575">Genus</text>
<text x="521" y="1575">Species</text>
<text x="767" y="1575">Strains</text>
<text x="922.5" y="1575">Core-20</text>
<text x="1041.5" y="1575">Core-6</text>
<text x="1229.5" y="1575">Mono-colonization</text>
</g>
<g id="genera" class="tb i">
<text x="225" y="1672.9">Gilliamella</text>
<text x="225" y="1771.2">Snodgrassella</text>
<text x="225" y="1889.1">Bifidobacterium</text>
<text x="225" y="2046.3">Bartonella</text>
<text x="225" y="2144.5">Bombilactobacillus</text>
<text x="225" y="2203.5">Apilactobacillus</text>
<text x="225" y="2301.7">Lactobacillus</text>
</g>
<g id="species" class="tb i">
<text x="521" y="1614">apicola</text>
<text x="521" y="1653.3">sp.</text>
<text x="521" y="1692.6">sp.</text>
<text x="521" y="1731.9">apis</text>
<text x="521" y="1771.2">alvi</text>
<text x="521" y="1810.5">indicum</text>
<text x="521" y="1849.8">apousia</text>
<text x="521" y="1889.1">choladohabitans</text>
<text x="521" y="1928.4">polysaccharolyticum</text>
<text x="521" y="1967.7">asteroides</text>
<text x="521" y="2007" class="b">choladocola</text>
<text x="521" y="2046.3" class="b">apihabitans</text>
<text x="521" y="2085.6">apis</text>
<text x="521" y="2124.9">mellis</text>
<text x="521" y="2164.2">mellifer</text>
<text x="521" y="2203.5">kunkeei</text>
<text x="521" y="2242.8">apis</text>
<text x="521" y="2282.1">helsingborgensis</text>
<text x="521" y="2321.4">melliventris</text>
<text x="521" y="2360.7">sp.</text>
</g>
<g id="strains" class="tb">
<text x="767" y="1614">B14448G12</text>
<text x="767" y="1653.3">W8131</text>
<text x="767" y="1692.6">B14384H2</text>
<text x="767" y="1731.9">W8123</text>
<text x="767" y="1771.2">W6238H14</text>
<text x="767" y="1810.5">W8108</text>
<text x="767" y="1849.8">W8102</text>
<text x="767" y="1889.1">W8113</text>
<text x="767" y="1928.4">W8111</text>
<text x="767" y="1967.7">W8118</text>
<text x="767" y="2007">B10834H15</text>
<text x="767" y="2046.3">M0193</text>
<text x="767" y="2085.6">B10834G6</text>
<text x="767" y="2124.9">W8089</text>
<text x="767" y="2164.2">W8092</text>
<text x="767" y="2203.5">M0345</text>
<text x="767" y="2242.8">W8172</text>
<text x="767" y="2282.1">W8093</text>
<text x="767" y="2321.4">W8171</text>
<text x="767" y="2360.7">W8173</text>
</g>
<g id="core20" class="c">
<use href="#tdot" x="925" y="1604"/>
<use href="#tdot" x="925" y="1643.3"/>
<use href="#tdot" x="925" y="1682.6"/>
<use href="#tdot" x="925" y="1721.9"/>
<use href="#tdot" x="925" y="1761.2"/>
<use href="#tdot" x="925" y="1800.5"/>
<use href="#tdot" x="925" y="1839.8"/>
<use href="#tdot" x="925" y="1879.1"/>
<use href="#tdot" x="925" y="1918.4"/>
<use href="#tdot" x="925" y="1957.7"/>
<use href="#tdot" x="925" y="1997"/>
<use href="#tdot" x="925" y="2036.3"/>
<use href="#tdot" x="925" y="2075.6"/>
<use href="#tdot" x="925" y="2114.9"/>
<use href="#tdot" x="925" y="2154.2"/>
<use href="#tdot" x="925" y="2193.5"/>
<use href="#tdot" x="925" y="2232.8"/>
<use href="#tdot" x="925" y="2272.1"/>
<use href="#tdot" x="925" y="2311.4"/>
<use href="#tdot" x="925" y="2350.7"/>
</g>
<g id="core6" class="t">
<use href="#ttri" x="1042" y="1604"/>
<use href="#ttri" x="1042" y="1761.2"/>
<use href="#ttri" x="1042" y="1879.1"/>
<use href="#ttri" x="1042" y="1997"/>
<use href="#ttri" x="1042" y="2114.9"/>
<use href="#ttri" x="1042" y="2232.8"/>
</g>
<g id="mono" class="s">
<use href="#star" x="1235" y="1762"/>
<use href="#star" x="1235" y="1801.3"/>
<use href="#star" x="1235" y="1840.6"/>
<use href="#star" x="1235" y="1879.9"/>
<use href="#star" x="1235" y="1919.2"/>
<use href="#star" x="1235" y="1958.5"/>
<use href="#star" x="1235" y="1997.8"/>
<use href="#star" x="1235" y="2115.7"/>
<use href="#star" x="1235" y="2155"/>
<use href="#star" x="1235" y="2194.3"/>
</g>
</g>
</svg>
